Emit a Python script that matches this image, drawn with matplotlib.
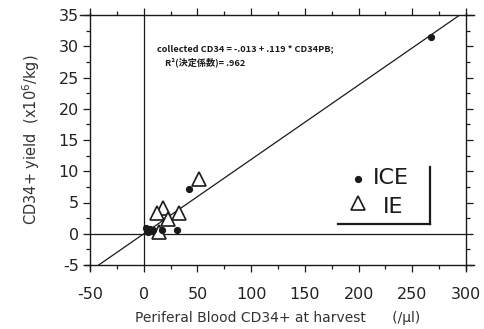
import matplotlib
matplotlib.use("Agg")
import matplotlib.pyplot as plt
import numpy as np
from matplotlib.ticker import MultipleLocator

plt.rcParams['axes.unicode_minus'] = False

# Data
ice_x = [267.4, 41.9, 30.9, 16.7, 2.8, 5.9, 4.3, 7.4, 8.9, 2.1]
ice_y = [31.5, 7.2, 0.6, 0.6, 0.7, 0.7, 0.25, 0.4, 0.6, 0.9]
ie_x = [51.2, 17.7, 12.1, 22.9, 32.8, 14.0]
ie_y = [8.8, 4.2, 3.3, 2.4, 3.3, 0.3]
intercept = -0.013
slope = 0.119
xticks = [-50, 0, 50, 100, 150, 200, 250, 300]
yticks = [-5, 0, 5, 10, 15, 20, 25, 30, 35]

fig = plt.figure(figsize=(4.84, 3.29), dpi=100)
ax = fig.add_axes([90/484, 1-265/329, 376/484, 250/329])
ax.set_xlim(-50, 300)
ax.set_ylim(-5, 35)

ink = '#1a1a1a'
for s in ax.spines.values():
    s.set_color(ink)
    s.set_linewidth(1.0)

# crossing frame extensions
for (xs, ys) in [([-0.027, 0.0], [1, 1]), ([1.0, 1.02], [1, 1]),
                 ([-0.013, 0.0], [0, 0]), ([1.0, 1.02], [0, 0]),
                 ([0, 0], [1.0, 1.01]), ([0, 0], [-0.02, 0.0]),
                 ([1, 1], [1.0, 1.01]), ([1, 1], [-0.02, 0.0])]:
    ax.plot(xs, ys, transform=ax.transAxes, color=ink, lw=1.0, clip_on=False)

ax.set_xticks(xticks)
ax.set_yticks(yticks)
ax.xaxis.set_minor_locator(MultipleLocator(25))
ax.yaxis.set_minor_locator(MultipleLocator(2.5))
ax.tick_params(which='both', direction='out', top=True, right=True,
               color=ink, width=0.9, labelcolor='#222222', labelsize=11.5)
ax.tick_params(which='major', length=5)
ax.tick_params(which='minor', length=3)
ax.tick_params(axis='x', which='major', pad=11)
ax.tick_params(axis='y', which='major', pad=3)

# reference lines
ax.axvline(0, color=ink, lw=0.9)
ax.axhline(0, color=ink, lw=0.9)
xr = np.array([-60, 310])
ax.plot(xr, intercept + slope * xr, color=ink, lw=0.9)

ax.plot(ice_x, ice_y, 'o', color=ink, markersize=4.2, zorder=5)
ax.plot(ie_x, ie_y, '^', markerfacecolor='white', markeredgecolor=ink,
        markeredgewidth=1.2, markersize=10, zorder=4)

ax.text(12.4, 29.6, "collected CD34 = -.013 + .119 * CD34PB;", fontsize=6.6,
        family=['Noto Sans CJK JP', 'DejaVu Sans'], fontweight='bold',
        va='center', ha='left', color=ink)
ax.text(19.8, 27.5, "R²(決定係数)= .962", fontsize=6.6,
        family=['Noto Sans CJK JP', 'DejaVu Sans'], fontweight='bold',
        va='center', ha='left', color=ink)

# legend (custom)
ax.plot([0.904, 0.904], [0.392, 0.164], transform=ax.transAxes, color=ink, lw=1.6)
ax.plot([0.660, 0.904], [0.164, 0.164], transform=ax.transAxes, color=ink, lw=1.6)
ax.plot([0.713], [0.344], 'o', transform=ax.transAxes, color=ink, markersize=4.2)
ax.plot([0.713], [0.248], '^', transform=ax.transAxes, markerfacecolor='white',
        markeredgecolor=ink, markeredgewidth=1.2, markersize=10)
ax.text(0.753, 0.348, "ICE", transform=ax.transAxes, fontsize=16, va='center',
        ha='left', color=ink)
ax.text(0.779, 0.232, "IE", transform=ax.transAxes, fontsize=16, va='center',
        ha='left', color=ink)

ax.set_xlabel("Periferal Blood CD34+ at harvest      (/μl)", fontsize=10,
              color='#333333', labelpad=6)
ax.set_ylabel("CD34+ yield  (x10$^{6}$/kg)", fontsize=10.5, color='#333333',
              labelpad=12)

fig.savefig("out.png", dpi=100)
